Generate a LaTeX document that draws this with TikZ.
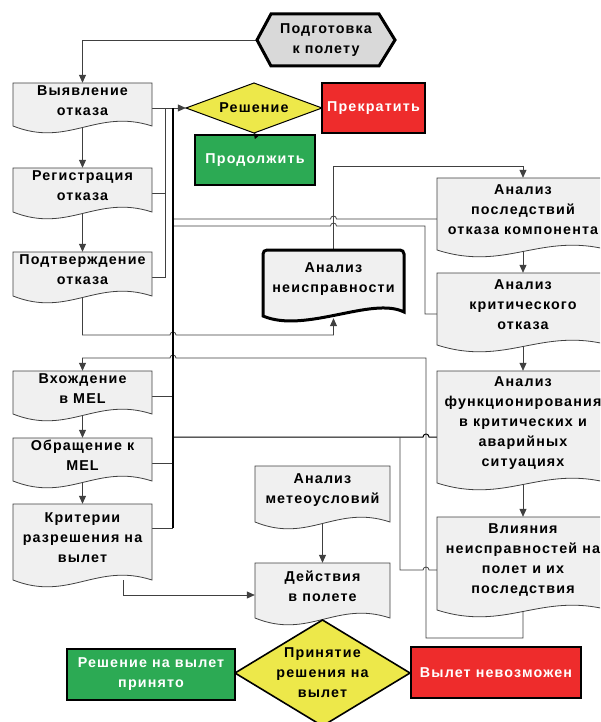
\documentclass[tikz,border=0pt]{standalone}
\usepackage{fontspec}
\setmainfont{Liberation Sans}[LetterSpace=8]
\usetikzlibrary{arrows.meta,calc}
\pgfdeclarelayer{bg}
\pgfdeclarelayer{paper}
\pgfsetlayers{paper,bg,main}
\definecolor{docgray}{HTML}{F0F0F0}
\definecolor{hexgray}{HTML}{D9D9D9}
\definecolor{okgreen}{HTML}{2CAA54}
\definecolor{stopred}{HTML}{EE2C2C}
\definecolor{decyel}{HTML}{EDE84A}
\definecolor{linegray}{HTML}{404040}
\tikzset{
  txt/.style={font=\bfseries\fontsize{14.3}{20}\selectfont, align=center, inner sep=0pt},
  docshape/.style={fill=docgray, draw=linegray, line width=0.8pt},
  conn/.style={draw=linegray, line width=0.8pt},
  busline/.style={draw=black, line width=1.8pt},
  arr/.style={-{Triangle[length=8pt,width=7pt]}},
  smallarr/.style={-{Triangle[length=5pt,width=6pt]}},
  solidbox/.style={txt, draw=black, line width=1.2pt, text=white},
}
% name, x1, y1, x2, ybase, text
\newcommand\docnode[6]{%
  \path[docshape] (#2,#3) -- (#4,#3) -- (#4,#5)
     .. controls ({#4-0.4*(#4-#2)},{#5-18}) and ({#2+0.4*(#4-#2)},{#5+22}) .. (#2,#5) -- cycle;
  \node[inner sep=0pt, minimum width={(#4-#2)*1pt}, minimum height={(#5-#3)*1pt}] (#1) at ({(#2+#4)/2},{(#3+#5)/2}) {};
  \node[txt] (#1-t) at ({(#2+#4)/2},{(#3+#5)/2-4}) {#6};
}
\begin{document}
\begin{tikzpicture}[x=1pt,y=-1pt]
\useasboundingbox (0,0) rectangle (600,722);
\begin{pgfonlayer}{paper}
  \fill[white] (0,0) rectangle (600,722);
\end{pgfonlayer}
\clip (0,0) rectangle (600,722);

% start hexagon
\path[fill=hexgray, draw=black, line width=3pt, line join=miter]
  (257,40) -- (271,14) -- (379,14) -- (395,40) -- (379,66) -- (271,66) -- cycle;
\node[txt, minimum width=138pt, minimum height=52pt] (prep) at (326,40) {Подготовка\\к полету};

% left column
\docnode{vyav}{13}{83}{152}{126}{Выявление\\отказа}
\docnode{regis}{13}{168}{152}{212}{Регистрация\\отказа}
\docnode{podtv}{13}{252}{152}{296}{Подтверждение\\отказа}
\docnode{vhozh}{13}{371}{152}{414}{Вхождение\\в MEL}
\docnode{obrash}{13}{438}{152}{481}{Обращение к\\MEL}
\docnode{krit}{13}{504}{152}{580}{Критерии\\разрешения на\\вылет}

% middle
\docnode{meteo}{255}{466}{390}{522}{Анализ\\метеоусловий}
\docnode{deistv}{255}{563}{390}{618}{Действия\\в полете}

% right column
\docnode{posl}{437}{178}{609}{250}{Анализ\\последствий\\отказа компонента}
\docnode{krits}{437}{273}{609}{345}{Анализ\\критического\\отказа}
\docnode{funk}{437}{371}{609}{483}{Анализ\\функционирования\\в критических и\\аварийных\\ситуациях}
\docnode{vliy}{437}{517}{609}{610}{Влияния\\неисправностей на\\полет и их\\последствия}

% fault analysis (thick document)
\path[fill=docgray, draw=black, line width=3pt, rounded corners=4pt]
  (263,316) -- (263,250) -- (404,250) [sharp corners] -- (404,312)
  .. controls (372,296) and (305,334) .. (263,316) -- cycle;
\node[inner sep=0pt, minimum width=141pt, minimum height=68pt] (neispr) at (333.5,284) {};
\node[txt] (neispr-t) at (333.5,279) {Анализ\\неисправности};

% decision diamond
\path[fill=decyel, draw=black, line width=1pt] (186,108) -- (254,83) -- (322,108) -- (254,133) -- cycle;
\node[txt, minimum width=136pt, minimum height=50pt] (resh) at (254,108) {Решение};
\node[solidbox, fill=stopred, minimum width=103pt, minimum height=50pt] (stop) at (373.5,108) {Прекратить};
\node[solidbox, fill=okgreen, minimum width=120pt, minimum height=50pt] (prod) at (255,160) {Продолжить};

% final decision
\path[fill=decyel, draw=black, line width=1.6pt] (235,673) -- (322.5,620) -- (410,673) -- (322.5,726) -- cycle;
\node[txt, minimum width=175pt, minimum height=106pt] (prin) at (322.5,673) {Принятие\\решения на\\вылет};
\node[solidbox, line width=2pt, fill=okgreen, minimum width=168pt, minimum height=51pt] (okay) at (151,674.5) {Решение на вылет\\принято};
\node[solidbox, line width=2pt, fill=stopred, minimum width=170pt, minimum height=51pt] (nogo) at (496,672.5) {Вылет невозможен};

\draw[black, smallarr] (prod.north) -- (resh.south);

% bend points
\coordinate (g1) at (165,108);
\coordinate (g2) at (165,193);
\coordinate (g3) at (165,277);
\coordinate (k1) at (173,108);
\coordinate (k2) at (173,528);
\coordinate (k3) at (173,396);
\coordinate (k4) at (173,463);
\coordinate (k5) at (173,219);
\coordinate (k6) at (173,226);
\coordinate (k7) at (173,437);
\coordinate (r1) at (425,226);
\coordinate (r2) at (425,314);
\coordinate (r3) at (400,437);
\coordinate (r4) at (400,570);
\coordinate (t1) at (333.5,166);
\coordinate (p1) at (82.5,335);
\coordinate (p2) at (333.5,335);
\coordinate (f1) at (523,638);
\coordinate (f2) at (426,638);
\coordinate (f3) at (426,358);
\coordinate (m1) at (123,595);

\begin{pgfonlayer}{bg}
  \draw[conn,arr] (prep.west) -| (vyav.north);
  \draw[conn,arr] (vyav.south) -- (regis.north);
  \draw[conn,arr] (regis.south) -- (podtv.north);
  \draw[conn,arr] (vhozh.south) -- (obrash.north);
  \draw[conn,arr] (obrash.south) -- (krit.north);
  % inputs to decision
  \draw[conn,arr] (vyav.east |- resh.west) -- (resh.west);
  \draw[conn] (regis.east |- g2) -- (g2) -- (g1);
  \draw[conn] (podtv.east |- g3) -- (g3) -- (g2);
  \draw[conn] (vhozh.east |- k3) -- (k3);
  \draw[conn] (obrash.east |- k4) -- (k4);
  \draw[conn] (krit.east |- k2) -- (k2);
  % branches to the right column
  \draw[conn] (k5) -- (330.5,219) arc[start angle=180,end angle=360,radius=3] -- (posl.west |- k5);
  \draw[conn] (k6) -- (330.5,226) arc[start angle=180,end angle=360,radius=3] -- (r1) -- (r2) -- (krits.west |- r2);
  \draw[black, line width=1pt] (k7) -- (423,437) arc[start angle=180,end angle=360,radius=3] -- (funk.west |- k7);
  \draw[conn] (r3) -- (r4) -- (423,570) arc[start angle=180,end angle=360,radius=3] -- (vliy.west |- r4);
  % fault analysis loop
  \draw[conn,arr] (podtv.south) -- (p1) -- (170,335) arc[start angle=180,end angle=360,radius=3] -- (p2) -- (neispr.south);
  \draw[conn,arr] (neispr.north) -- (t1) -| (posl.north);
  % right column chain
  \draw[conn,arr] (posl.south) -- (krits.north);
  \draw[conn,arr] (krits.south) -- (funk.north);
  \draw[conn,arr] (funk.south) -- (vliy.north);
  % feedback to MEL
  \draw[conn,arr] (vliy.south) -- (f1) -- (f2) -- (f3) -- (176,358) arc[start angle=0,end angle=-180,radius=3] -| (vhozh.north);
  % flight actions
  \draw[conn,arr] (krit.south -| m1) -- (m1) -- (deistv.west |- m1);
  \draw[conn,arr] (meteo.south) -- (deistv.north);
  % main bus
  \draw[busline] (k1) -- (k2);
\end{pgfonlayer}
\end{tikzpicture}
\end{document}
